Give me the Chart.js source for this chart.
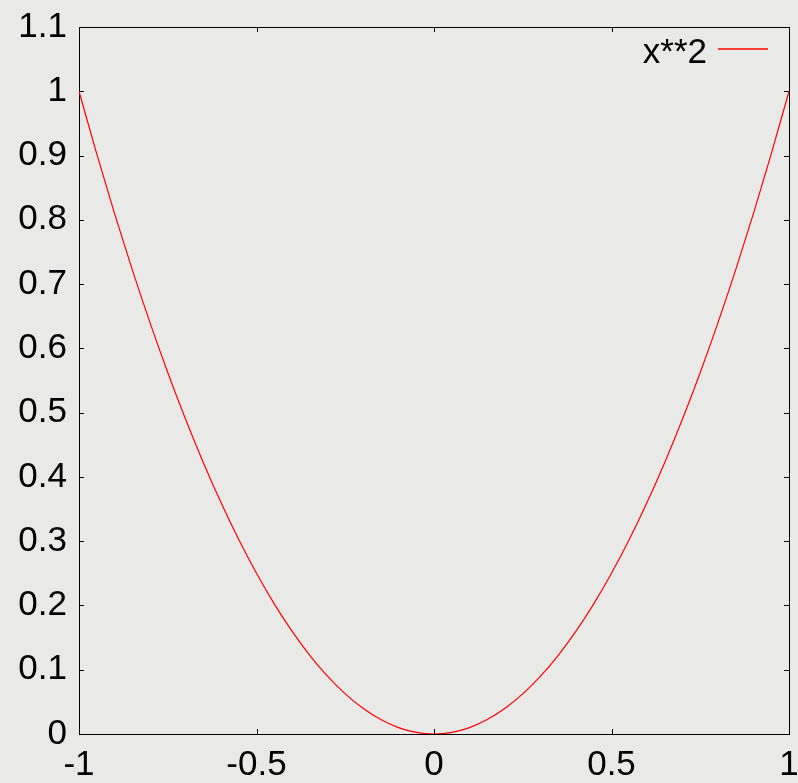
<!DOCTYPE html>
<html>
<head>
<meta charset="utf-8">
<script src="https://cdn.jsdelivr.net/npm/chart.js@4/dist/chart.umd.min.js"></script>
<style>
  html, body { margin: 0; padding: 0; background: #e9e9e7; }
  #wrap { width: 798px; height: 783px; }
</style>
</head>
<body>
<div id="wrap"><canvas id="c" width="798" height="783"></canvas></div>
<script>
const seriesLabel = 'x**2';
const seriesColor = '#ff0000';
const xValues = [-1, -0.95, -0.9, -0.85, -0.8, -0.75, -0.7, -0.65, -0.6, -0.55, -0.5, -0.45, -0.4, -0.35, -0.3, -0.25, -0.2, -0.15, -0.1, -0.05, 0,
                 0.05, 0.1, 0.15, 0.2, 0.25, 0.3, 0.35, 0.4, 0.45, 0.5, 0.55, 0.6, 0.65, 0.7, 0.75, 0.8, 0.85, 0.9, 0.95, 1];
const yValues = [1, 0.9025, 0.81, 0.7225, 0.64, 0.5625, 0.49, 0.4225, 0.36, 0.3025, 0.25, 0.2025, 0.16, 0.1225, 0.09, 0.0625, 0.04, 0.0225, 0.01, 0.0025, 0,
                 0.0025, 0.01, 0.0225, 0.04, 0.0625, 0.09, 0.1225, 0.16, 0.2025, 0.25, 0.3025, 0.36, 0.4225, 0.49, 0.5625, 0.64, 0.7225, 0.81, 0.9025, 1];
const xTicks = [-1, -0.5, 0, 0.5, 1];
const yTicks = [0, 0.1, 0.2, 0.3, 0.4, 0.5, 0.6, 0.7, 0.8, 0.9, 1, 1.1];

const FONT = { family: '"Liberation Sans", Arial, sans-serif', size: 35 };

const framePlugin = {
  id: 'frame',
  beforeDatasetsDraw(chart) {
    const { ctx, chartArea: a, scales } = chart;
    ctx.save();
    ctx.strokeStyle = '#000';
    ctx.lineWidth = 1;
    ctx.beginPath();
    const L = 5;
    xTicks.forEach(v => {
      const px = Math.round(scales.x.getPixelForValue(v)) + 0.5;
      ctx.moveTo(px, a.bottom); ctx.lineTo(px, a.bottom - L);
      ctx.moveTo(px, a.top); ctx.lineTo(px, a.top + L);
    });
    yTicks.forEach(v => {
      const py = Math.round(scales.y.getPixelForValue(v)) + 0.5;
      ctx.moveTo(a.left, py); ctx.lineTo(a.left + L, py);
      ctx.moveTo(a.right, py); ctx.lineTo(a.right - L, py);
    });
    ctx.stroke();
    ctx.strokeRect(Math.round(a.left) + 0.5, Math.round(a.top) + 0.5,
                   Math.round(a.right - a.left), Math.round(a.bottom - a.top));
    ctx.restore();
  },
  afterDatasetsDraw(chart) {
    const { ctx, chartArea: a } = chart;
    const ds = chart.data.datasets[0];
    ctx.save();
    ctx.font = `${FONT.size}px ${FONT.family}`;
    ctx.fillStyle = '#000';
    ctx.textAlign = 'right';
    ctx.textBaseline = 'alphabetic';
    ctx.fillText(ds.label, a.right - 82, a.top + 36);
    ctx.strokeStyle = seriesColor;
    ctx.lineWidth = 1.3;
    ctx.beginPath();
    ctx.moveTo(a.right - 71, a.top + 22);
    ctx.lineTo(a.right - 21, a.top + 22);
    ctx.stroke();
    ctx.restore();
  }
};

function zeroPad(s) { s.paddingLeft = 0; s.paddingRight = 0; s.paddingTop = 0; s.paddingBottom = 0; }

new Chart(document.getElementById('c'), {
  type: 'line',
  data: {
    datasets: [{
      label: seriesLabel,
      data: xValues.map((x, i) => ({ x: x, y: yValues[i] })),
      borderColor: seriesColor,
      borderWidth: 1.2,
      pointRadius: 0,
      fill: false,
      cubicInterpolationMode: 'monotone'
    }]
  },
  options: {
    responsive: false,
    animation: false,
    layout: { padding: { left: 0, right: 9, top: 27, bottom: 0 } },
    plugins: { legend: { display: false }, tooltip: { enabled: false } },
    scales: {
      x: {
        type: 'linear', min: -1, max: 1,
        grid: { display: false }, border: { display: false },
        afterBuildTicks: s => { s.ticks = xTicks.map(v => ({ value: v })); },
        ticks: { font: FONT, color: '#000', padding: 2, maxRotation: 0, autoSkip: false,
                 callback: v => String(v) },
        afterFit: s => { s.height = 49; zeroPad(s); }
      },
      y: {
        type: 'linear', min: 0, max: 1.1,
        grid: { display: false }, border: { display: false },
        afterBuildTicks: s => { s.ticks = yTicks.map(v => ({ value: v })); },
        ticks: { font: FONT, color: '#000', padding: 4, autoSkip: false,
                 callback: v => String(Math.round(v * 10) / 10) },
        afterFit: s => { s.width = 79; zeroPad(s); }
      }
    }
  },
  plugins: [framePlugin]
});
</script>
</body>
</html>
